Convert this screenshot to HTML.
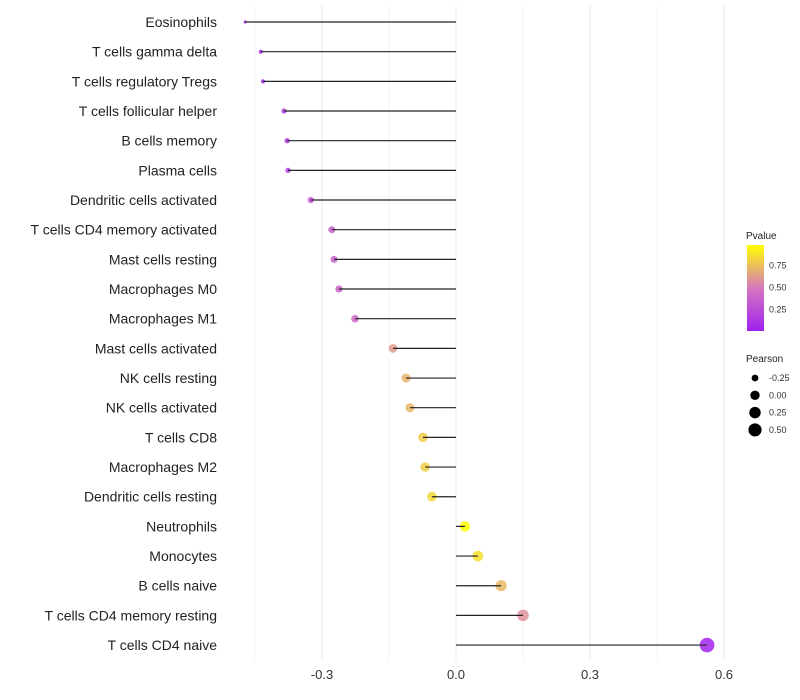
<!DOCTYPE html>
<html><head><meta charset="utf-8"><style>body{margin:0;background:#fff}svg{display:block;font-family:"Liberation Sans",sans-serif}</style></head>
<body>
<svg id="chart" width="800" height="700" xmlns="http://www.w3.org/2000/svg"></svg>
<script>
const categories=["Eosinophils","T cells gamma delta","T cells regulatory  Tregs","T cells follicular helper","B cells memory","Plasma cells","Dendritic cells activated","T cells CD4 memory activated","Mast cells resting","Macrophages M0","Macrophages M1","Mast cells activated","NK cells resting","NK cells activated","T cells CD8","Macrophages M2","Dendritic cells resting","Neutrophils","Monocytes","B cells naive","T cells CD4 memory resting","T cells CD4 naive"];
const pearson=[-0.472,-0.437,-0.432,-0.385,-0.378,-0.376,-0.325,-0.278,-0.273,-0.262,-0.226,-0.141,-0.112,-0.103,-0.074,-0.069,-0.054,0.020,0.049,0.101,0.150,0.562];
const pvalue=[0.08,0.05,0.07,0.15,0.15,0.15,0.3,0.35,0.35,0.37,0.4,0.62,0.7,0.72,0.8,0.8,0.84,0.97,0.87,0.72,0.58,0.02];
const xTicks=[-0.3,0,0.3,0.6];
const xMinor=[-0.45,-0.15,0.15,0.45];
const pTicks=[0.25,0.5,0.75];
const sizeTicks=[-0.25,0,0.25,0.5];
const svg=document.getElementById('chart');const NS="http://www.w3.org/2000/svg";
function mk(t,a,p){const e=document.createElementNS(NS,t);for(const k in a)e.setAttribute(k,a[k]);(p||svg).appendChild(e);return e;}
const x=v=>456+v*446.7;
const y=i=>22+i*29.67;
const r=v=>Math.sqrt(2.5+50*Math.max(v+0.472,0));
function lerp(a,b,t){return a.map((c,i)=>Math.round(c+(b[i]-c)*t));}
function col(p){const s=[[160,32,240],[214,120,190],[255,255,0]];let t=Math.min(p/0.98,1);let c=t<0.5?lerp(s[0],s[1],t*2):lerp(s[1],s[2],(t-0.5)*2);return `rgb(${c})`;}
[...xTicks,...xMinor].forEach(v=>{const g=mk('line',{x1:x(v),x2:x(v),y1:5,y2:660,stroke:'#ebebeb','stroke-width':xTicks.includes(v)?1.1:0.6});

});
xTicks.forEach(v=>{const t=mk('text',{x:x(v),y:679,'text-anchor':'middle','font-size':13,fill:'#333'});t.textContent=v===0?'0.0':v.toFixed(1);

});
categories.forEach((c,i)=>{
const t=mk('text',{x:217,y:y(i)+5,'text-anchor':'end','font-size':14,fill:'#222'});t.textContent=c;


const d=mk('circle',{cx:x(pearson[i]),cy:y(i),r:r(pearson[i]),fill:col(pvalue[i]),'fill-opacity':0.85});


const l=mk('line',{x1:x(0),x2:x(pearson[i]),y1:y(i),y2:y(i),stroke:'#222','stroke-width':1.2});


});
const lt=mk('text',{x:746,y:239,'font-size':10,fill:'#222'});lt.textContent='Pvalue';


const defs=mk('defs',{});const gr=mk('linearGradient',{id:'pg',x1:0,y1:1,x2:0,y2:0},defs);
for(let k=0;k<=10;k++){mk('stop',{offset:k/10,'stop-color':col(k/10*0.98)},gr);}
const cb=mk('rect',{x:747,y:245,width:17,height:86,fill:'url(#pg)'});


const py=p=>331-p*88;
pTicks.forEach(p=>{const t=mk('text',{x:769,y:py(p)+3.5,'font-size':9,fill:'#333'});t.textContent=p.toFixed(2);

});
const st=mk('text',{x:746,y:362,'font-size':10,fill:'#222'});st.textContent='Pearson';


sizeTicks.forEach((v,k)=>{const cy=378+k*17.3;
const c=mk('circle',{cx:755,cy:cy,r:r(v)*0.92,fill:'#000'});


const t=mk('text',{x:769,y:cy+3,'font-size':9,fill:'#333'});t.textContent=v.toFixed(2);

});
</script>
</body></html>
